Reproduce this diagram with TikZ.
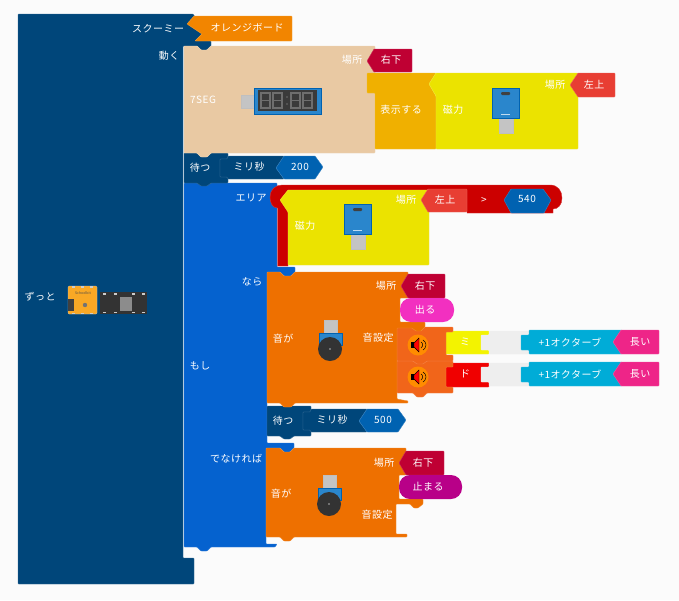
\documentclass[tikz,border=0pt]{standalone}
\usepackage{fontspec}
\setmainfont{Noto Sans CJK JP}
\setsansfont{Noto Sans CJK JP}
\usetikzlibrary{positioning}
\definecolor{bgpage}{HTML}{FBFBFB}
\definecolor{navy}{HTML}{00467A}
\definecolor{ifblue}{HTML}{0562CF}
\definecolor{beige}{HTML}{E9C9A3}
\definecolor{showorange}{HTML}{F0B000}
\definecolor{magyellow}{HTML}{EBE300}
\definecolor{boardorange}{HTML}{F28500}
\definecolor{crimson}{HTML}{BF0033}
\definecolor{tomato}{HTML}{E83E33}
\definecolor{boolred}{HTML}{CC0000}
\definecolor{soundorange}{HTML}{EE7000}
\definecolor{spkorange}{HTML}{F1651A}
\definecolor{numblue}{HTML}{0062B1}
\definecolor{hotpink}{HTML}{F230C0}
\definecolor{purplepink}{HTML}{B80088}
\definecolor{octcyan}{HTML}{00ACD7}
\definecolor{lenpink}{HTML}{EE2588}
\definecolor{noteyellow}{HTML}{F3F300}
\definecolor{notered}{HTML}{F00000}
\definecolor{emptygrey}{HTML}{EEEEEE}
\definecolor{sensorblue}{HTML}{2A86CC}
\definecolor{partgrey}{HTML}{C4C4C4}
\definecolor{schoolorange}{HTML}{F9A825}
\definecolor{paneldark}{HTML}{3A3A3A}
\definecolor{segoff}{HTML}{6E6E6E}

\begin{document}
\begin{tikzpicture}[
  x=1pt, y=-1pt,
  block/.style={fill=#1, draw=#1!80!white, line width=0.4pt, rounded corners=0.6pt},
  txt/.style={text=white, font=\fontsize{10}{11}\selectfont\addfontfeature{LetterSpace=5}, inner sep=0pt},
  partgray/.style={fill=partgrey, draw=black!25, line width=0.4pt},
  partblue/.style={fill=sensorblue, draw=numblue, line width=0.5pt}
]
\useasboundingbox[fill=bgpage] (0,0) rectangle (679,600);

% --- Forever block
\path[block=navy] (18,14) -- (193,14) -- (195,17) -- (203,34) -- (195,41) -- (211,41) -- (211,46) -- (207,50) -- (201,50) -- (197,46)
  -- (183,46) -- (183,558) -- (194,558) -- (194,584) -- (18,584) -- cycle;

% --- If block
\path[block=ifblue] (184,183) -- (277,183) -- (277,267) -- (295,267) -- (295,272) -- (291,276) -- (284,276) -- (280,272)
  -- (267,272) -- (267,443) -- (294,443) -- (294,448) -- (290,452) -- (284,452) -- (280,448) -- (266,448)
  -- (266,544) -- (277,544) -- (275,547) -- (211,547) -- (207,551) -- (201,551) -- (197,547) -- (184,547) -- cycle;

% --- Wait blocks
\foreach \dx/\dy/\val in {0/0/200, 83/253/500} {
  \begin{scope}[shift={(\dx,\dy)}]
    \path[block=navy] (184,153) -- (228,153) -- (228,159) -- (220,159) -- (220,177) -- (228,177) -- (228,183)
      -- (211,183) -- (207,186) -- (201,186) -- (197,183) -- (184,183) -- cycle;
    \path[block=navy] (228,156) -- (284,156) -- (276,168) -- (284,179) -- (228,179) -- (227,177) -- (220,177)
      -- (220,159) -- (227,159) -- cycle;
    \path[block=numblue] (276,168) -- (284,156) -- (315,156) -- (323,167) -- (315,179) -- (284,179) -- cycle;
    \node[txt] (wait\val) at (200,168) {待つ};
    \node[txt] (msec\val) at (249,167) {ミリ秒};
    \node[txt] (num\val)  at (300,167) {\val};
  \end{scope}
}

% --- 7SEG block and display
\path[block=beige] (184,46) -- (197,46) -- (201,50) -- (207,50) -- (211,46) -- (375,46) -- (375,153)
  -- (211,153) -- (207,157) -- (201,157) -- (197,153) -- (184,153) -- cycle;
\path[block=showorange] (367,73) -- (436,73) -- (429,84) -- (436,96) -- (436,149) -- (375,149) -- (375,93) -- (367,93) -- cycle;
\path[block=magyellow] (436,73) -- (578,73) -- (578,149) -- (436,149) -- (436,96) -- (429,84) -- cycle;
\path[block=crimson] (367,61) -- (374,49) -- (412,49) -- (412,72) -- (374,72) -- cycle;
\path[block=tomato] (570,85) -- (578,73) -- (615,73) -- (615,97) -- (578,97) -- cycle;
\path[partgray] (241,95) rectangle (254,108);
\path[partblue] (254,88) rectangle (321,114);
\fill[paneldark] (258,90) rectangle (317,111);
\foreach \x in {261,273,291,303} {
  \draw[segoff, line width=1.5pt] (\x,93) rectangle ++(9,15) (\x,100.5) -- ++(9,0);
}
\fill[segoff] (287,97) circle (0.8pt) (287,104) circle (0.8pt);

% --- Orange board value
\path[block=boardorange] (187,24) -- (194,16) -- (292,16) -- (292,41) -- (195,41) -- (202,34) -- cycle;

% --- Condition
\path[fill=boolred, draw=boolred!80!white, line width=0.4pt] (288,266) -- (277.5,266) -- (277.5,208)
  .. controls (272,208) and (270,202) .. (270,197) .. controls (270,190) and (275,185) .. (282,185)
  -- (550,185) .. controls (558,185) and (562,191) .. (562,198) .. controls (562,205) and (558,209) .. (553,209)
  -- (553,213) -- (467,213) -- (467,190) -- (288,190) -- cycle;
\path[block=magyellow] (288,190) -- (429,190) -- (429,265) -- (288,265) -- (288,212) -- (280,200) -- cycle;
\path[block=tomato] (421,200) -- (428,189) -- (467,189) -- (467,212) -- (428,212) -- cycle;
\path[block=numblue] (504,200) -- (511,189) -- (543,189) -- (551,200) -- (544,213) -- (511,213) -- cycle;

% --- Speaker blocks and their values
\path[block=noteyellow] (445,331) -- (489,331) -- (489,354) -- (445,354) -- cycle;
\path[block=notered] (445,363) -- (489,363) -- (489,387) -- (445,387) -- cycle;
\foreach \y in {0,32} {
  \begin{scope}[yshift=-\y pt]
    \path[block=emptygrey] (489,331) -- (529,331) -- (529,354) -- (489,354) -- (489,350) -- (481,350) -- (481,335) -- (489,335) -- cycle;
    \path[block=octcyan] (529,330) -- (622,330) -- (613,342) -- (622,354) -- (529,354) -- (529,350) -- (521,350) -- (521,335) -- (529,335) -- cycle;
    \path[block=lenpink] (613,342) -- (621,330) -- (659,330) -- (659,354) -- (621,354) -- cycle;
  \end{scope}
}
\path[block=spkorange] (397,361) -- (453,361) -- (453,367) -- (446,367) -- (446,387) -- (453,387) -- (453,393)
  -- (427,393) -- (423,397) -- (417,397) -- (413,393) -- (397,393) -- cycle;
\path[block=spkorange] (397,327) -- (453,327) -- (453,332) -- (446,332) -- (446,355) -- (453,355) -- (453,361)
  -- (427,361) -- (423,364) -- (417,364) -- (413,361) -- (397,361) -- cycle;
\foreach \y in {345,377} {
  \fill[fill=orange!90!yellow] (418,\y) circle (10.5pt);
  \fill[black] (411,\y-3) rectangle (414,\y+3);
  \path[fill=red, draw=black, line width=0.4pt] (414,\y-2) -- (419,\y-7) -- (419,\y+7) -- (414,\y+2) -- cycle;
  \draw[black, line width=0.5pt] (421,\y+3) arc (-60:60:3.5pt);
  \draw[black, line width=0.5pt] (423,\y+5) arc (-60:60:5.8pt);
}

% --- Sound blocks
\path[block=soundorange] (267,272) -- (280,272) -- (284,276) -- (291,276) -- (295,272) -- (408,272) -- (408,298) -- (400,298)
  -- (400,322) -- (425,322) -- (425,327) -- (421,331) -- (416,331) -- (412,328) -- (397,328) -- (397,399) -- (408,401)
  -- (408,403) -- (295,403) -- (291,407) -- (284,407) -- (280,403) -- (267,403) -- cycle;
\path[block=soundorange] (266,448) -- (280,448) -- (284,452) -- (290,452) -- (294,448) -- (406,448) -- (406,475) -- (399,475)
  -- (399,499) -- (423,499) -- (423,504) -- (418,508) -- (414,508) -- (410,504) -- (396,504) -- (396,534) -- (407,534)
  -- (407,537) -- (294,537) -- (290,541) -- (284,541) -- (280,537) -- (266,537) -- cycle;
\path[block=crimson] (401,286) -- (408,274) -- (445,274) -- (445,298) -- (408,298) -- cycle;
\path[block=crimson] (399,463) -- (406,451) -- (444,451) -- (444,475) -- (406,475) -- cycle;
\path[fill=hotpink, rounded corners=11pt] (400,298) rectangle (454,322);
\path[fill=purplepink, rounded corners=11pt] (399,475) rectangle (462,499);

% --- Magnet sensors
\foreach \x/\y in {492/88, 344/204} {
  \path[partgray] (\x+7,\y+30) rectangle ++(14,15);
  \path[partblue] (\x,\y) rectangle ++(27,30);
  \fill[black!75, rounded corners=1pt] (\x+9,\y+4) rectangle ++(9,3);
  \fill[white!70!sensorblue] (\x+9,\y+26) rectangle ++(9,1);
}

% --- Buzzer sensors
\foreach \x/\y in {324/320, 323/475} {
  \path[partgray] (\x,\y) rectangle ++(13,13);
  \path[partblue] (\x-5,\y+13) rectangle ++(23,12);
  \fill[black!80] (\x+6,\y+29) circle (12pt);
  \fill[black!30] (\x+6,\y+29) circle (0.8pt);
}

% --- Boards
\path[fill=schoolorange, draw=black!20, line width=0.3pt, rounded corners=1pt] (68,286) rectangle (97,314);
\fill[black!75] (68,299) rectangle (74,311);
\fill[black!55] (85,305) circle (2.2pt);
\foreach \x in {73,82,91} {
  \fill[black!20] (\x-1.5,286) rectangle ++(3,1.5);
  \fill[black!20] (\x-1.5,312.5) rectangle ++(3,1.5);
}
\fill[black!80] (100,292) rectangle (147,314);
\fill[black!45] (120,297) rectangle (132,311);
\foreach \x in {104,115,133,143} {
  \fill[black!20] (\x-1.5,293) rectangle ++(3,1.5);
  \fill[black!20] (\x-1.5,311.5) rectangle ++(3,1.5);
}
\node[text=black!70, font=\fontsize{3.5}{4}\selectfont, inner sep=0pt] (schoolbit) at (83,293) {Schoolbit};

% --- Labels
\node[txt] (forever) at (40,297) {ずっと};
\node[txt] (scoomy) at (158,29) {スクーミー};
\node[txt] (board) at (247,28) {オレンジボード};
\node[txt] (move) at (169,56) {動く};
\node[txt] (sevenseg) at (203,100) {7SEG};
\node[txt] (placeA) at (352,60) {場所};
\node[txt] (posA) at (391,60) {右下};
\node[txt] (show) at (401,110) {表示する};
\node[txt] (magA) at (453,110) {磁力};
\node[txt] (placeB) at (555,85) {場所};
\node[txt] (posB) at (594,85) {左上};
\node[txt] (area) at (251,198) {エリア};
\node[txt] (magB) at (305,226) {磁力};
\node[txt] (placeC) at (406,200) {場所};
\node[txt] (posC) at (445,200) {左上};
\node[txt] (compare) at (484,201) {>};
\node[txt] (thresh) at (527,199) {540};
\node[txt] (then) at (252,282) {なら};
\node[txt] (ifword) at (200,366) {もし};
\node[txt] (soundA) at (283,339) {音が};
\node[txt] (placeD) at (386,286) {場所};
\node[txt] (posD) at (425,286) {右下};
\node[txt] (comeout) at (425,310) {出る};
\node[txt] (setA) at (378,338) {音設定};
\node[txt] (noteMi) at (465,342) {ミ};
\node[txt] (noteDo) at (465,374) {ド};
\node[txt] (octA) at (570,342) {+1オクターブ};
\node[txt] (octB) at (570,374) {+1オクターブ};
\node[txt] (lenA) at (640,342) {長い};
\node[txt] (lenB) at (640,374) {長い};
\node[txt] (otherwise) at (236,459) {でなければ};
\node[txt] (soundB) at (281,494) {音が};
\node[txt] (placeE) at (384,463) {場所};
\node[txt] (posE) at (423,463) {右下};
\node[txt] (stop) at (428,487) {止まる};
\node[txt] (setB) at (377,515) {音設定};

\end{tikzpicture}
\end{document}
